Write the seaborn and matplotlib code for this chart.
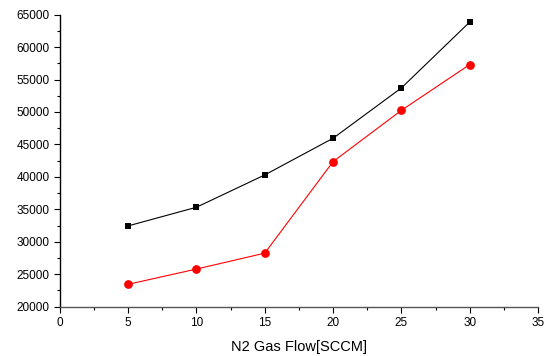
import matplotlib
matplotlib.use("Agg")
import matplotlib.pyplot as plt
import seaborn as sns
import pandas as pd
from matplotlib.ticker import MultipleLocator

flow = [5, 10, 15, 20, 25, 30]
black_vals = [32450, 35320, 40300, 45950, 53700, 63850]
red_vals = [23450, 25800, 28250, 42350, 50250, 57300]

sns.set_style("white")
plt.rcParams['font.family'] = ['Liberation Sans', 'DejaVu Sans']

fig = plt.figure(figsize=(5.44, 3.56), dpi=100)
ax = fig.add_axes([0.110, 0.1385, 0.879, 0.8205])

sns.lineplot(x=flow, y=black_vals, ax=ax, color='black', marker='s', markersize=4.8,
             markeredgewidth=0, linewidth=0.8)
sns.lineplot(x=flow, y=red_vals, ax=ax, color='#ff0000', marker='o', markersize=6.3,
             markeredgewidth=0, linewidth=0.8)

ax.set_xlim(0, 35)
ax.set_ylim(20000, 65000)
ax.xaxis.set_major_locator(MultipleLocator(5))
ax.xaxis.set_minor_locator(MultipleLocator(2.5))
ax.yaxis.set_major_locator(MultipleLocator(5000))
ax.yaxis.set_minor_locator(MultipleLocator(2500))

for s in ['top', 'right']:
    ax.spines[s].set_visible(False)
ax.spines['left'].set_color('black')
ax.spines['left'].set_linewidth(1.0)
ax.spines['bottom'].set_color('#555555')
ax.spines['bottom'].set_linewidth(1.0)

ax.tick_params(axis='both', which='major', direction='out', length=4.5, width=0.8,
               color='black', labelsize=8.5, labelcolor='black', pad=3, bottom=True, left=True)
ax.tick_params(axis='both', which='minor', direction='out', length=2.5, width=0.8,
               color='black', bottom=True, left=True)

ax.set_xlabel("N2 Gas Flow[SCCM]", fontsize=10.5, labelpad=8, color='black')
ax.set_ylabel("")

fig.savefig("out.png", dpi=100)
